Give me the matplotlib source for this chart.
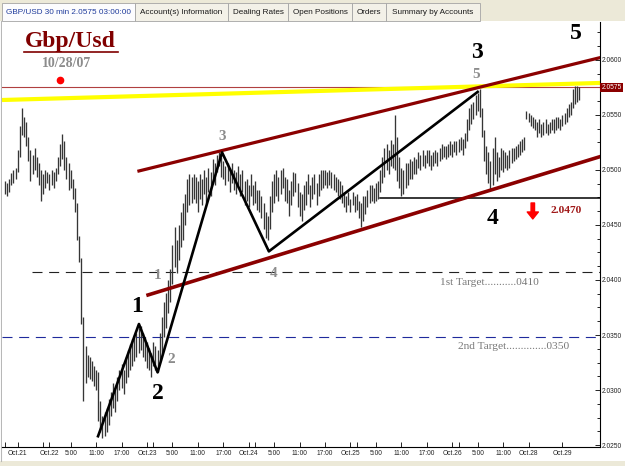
import numpy as np
import matplotlib
matplotlib.use("Agg")
import matplotlib.pyplot as plt
from matplotlib.patches import Rectangle
from matplotlib.ticker import MultipleLocator, FormatStrFormatter

# 30 min bars, prices in pips above 2.0000
bar_low = [
    478, 476, 480, 486, 488, 492, 498, 512, 532, 530,
    522, 508, 490, 496, 500, 494, 486, 472, 478, 484,
    488, 482, 486, 484, 490, 496, 504, 510, 500, 492,
    482, 484, 474, 462, 436, 416, 360, 290, 306, 312,
    310, 308, 304, 300, 272, 262, 256, 258, 262, 268,
    276, 284, 280, 290, 300, 302, 296, 306, 312, 318,
    322, 326, 330, 334, 336, 330, 326, 320, 318, 312,
    322, 318, 316, 326, 334, 348, 356, 370, 380, 396,
    412, 406, 418, 430, 436, 450, 462, 468, 470, 474,
    470, 462, 474, 468, 478, 470, 480, 476, 488, 486,
    498, 504, 494, 492, 486, 490, 480, 488, 482, 478,
    486, 476, 480, 468, 472, 466, 476, 468, 470, 464,
    462, 456, 446, 438, 436, 446, 462, 470, 476, 472,
    478, 484, 472, 470, 458, 468, 476, 480, 466, 458,
    454, 464, 468, 478, 466, 474, 478, 468, 476, 482,
    484, 486, 484, 486, 484, 482, 480, 476, 474, 470,
    466, 462, 468, 462, 468, 462, 464, 456, 448, 454,
    460, 466, 470, 472, 470, 472, 474, 480, 488, 494,
    500, 496, 504, 502, 500, 490, 484, 476, 478, 484,
    486, 492, 492, 496, 496, 502, 500, 504, 502, 506,
    504, 500, 504, 506, 504, 508, 510, 512, 510, 512,
    514, 512, 516, 514, 516, 518, 514, 520, 526, 536,
    542, 546, 550, 554, 548, 530, 508, 496, 488, 482,
    486, 496, 490, 494, 500, 498, 502, 500, 502, 506,
    508, 510, 512, 514, 516, 518, 546, 544, 540, 538,
    536, 530, 534, 530, 532, 534, 532, 534, 536, 534,
    536, 538, 536, 540, 542, 544, 548, 550, 556, 560, 562, 564,
]
bar_high = [
    490, 488, 492, 497, 500, 502, 518, 540, 556, 548,
    544, 530, 518, 514, 520, 512, 506, 500, 496, 500,
    498, 496, 500, 498, 502, 512, 524, 533, 526, 512,
    506, 500, 492, 484, 470, 440, 420, 366, 340, 332,
    330, 326, 322, 318, 316, 290, 276, 280, 284, 292,
    298, 306, 302, 312, 318, 324, 318, 330, 336, 342,
    346, 350, 352, 356, 358, 352, 348, 344, 338, 334,
    344, 340, 336, 352, 366, 380, 388, 400, 410, 432,
    448, 436, 450, 462, 470, 478, 492, 496, 494, 496,
    494, 490, 496, 492, 500, 494, 502, 498, 510, 506,
    514, 516, 512, 508, 504, 506, 502, 506, 500, 498,
    504, 496, 500, 490, 492, 486, 496, 486, 490, 482,
    482, 476, 470, 462, 458, 476, 490, 496, 500, 494,
    500, 502, 494, 492, 482, 490, 498, 497, 488, 480,
    478, 486, 490, 496, 486, 494, 496, 488, 496, 500,
    500, 500, 498, 500, 498, 496, 494, 492, 490, 486,
    480, 476, 480, 474, 480, 476, 478, 472, 470, 476,
    476, 482, 486, 486, 484, 488, 490, 500, 512, 520,
    524, 518, 527, 524, 550, 530, 512, 502, 500, 506,
    506, 510, 508, 512, 510, 516, 514, 518, 514, 518,
    518, 514, 516, 518, 516, 520, 524, 522, 522, 524,
    526, 524, 526, 526, 528, 530, 528, 534, 546, 556,
    560, 562, 568, 570, 574, 556, 536, 522, 516, 508,
    520, 530, 516, 512, 520, 518, 516, 514, 518, 520,
    520, 522, 524, 526, 528, 530, 554, 552, 550, 548,
    546, 544, 546, 542, 544, 546, 542, 544, 546, 546,
    548, 548, 546, 550, 552, 556, 560, 562, 574, 576, 576, 575,
]

time_ticks = [6, 21, 31, 43, 55, 67, 79, 91, 103, 115, 127, 139, 151,
              163, 175, 187, 199, 211, 223, 235, 247, 263]
time_labels = ["Oct.21", "Oct.22", "5:00", "11:00", "17:00", "Oct.23", "5:00",
               "11:00", "17:00", "Oct.24", "5:00", "11:00", "17:00", "Oct.25",
               "5:00", "11:00", "17:00", "Oct.26", "5:00", "11:00", "Oct.28",
               "Oct.29"]
extra_ticks = [0, 18, 70, 118, 166, 214]

# elliott wave count (bar, price)
wave_x = [43.9, 63.2, 72.0, 102.4, 124.5, 223.0]
wave_y = [2.0258, 2.0360, 2.0316, 2.0516, 2.0426, 2.0571]

last_price = 2.0575
target1 = 2.0407
target2 = 2.0348
support = 2.04745

x = np.arange(len(bar_low))
lo = 2 + np.array(bar_low) / 1e4
hi = 2 + np.array(bar_high) / 1e4

fig = plt.figure(figsize=(6.25, 4.66), dpi=100)
ax = fig.add_axes([2 / 625, 1 - 447 / 466, 598 / 625, 425 / 466])
ax.set_xlim(-1.4, 280.7)
ax.set_ylim(2.02482, 2.06345)

serif = "Liberation Serif"
sans = "Liberation Sans"
maroon = "#8b0000"

ax.vlines(x, lo, hi, color="#363636", lw=0.95, zorder=3)

# levels
ax.axhline(last_price, color="#b04040", lw=0.8, zorder=2)
ax.plot([-1.4, 280.7], [2.05636, 2.05791], color="#ffff00", lw=3.0, solid_capstyle="butt", zorder=2)
ax.plot([63.2, 280.7], [2.04991, 2.06021], color=maroon, lw=2.3, zorder=4)
ax.plot([67.5, 280.7], [2.03864, 2.05121], color=maroon, lw=2.6, zorder=4)
ax.plot([176.9, 280.7], [support, support], color="black", lw=1.1, zorder=2)
ax.plot([12.7, 280.7], [target1, target1], color="#222222", lw=0.8, ls=(0, (9, 6)), zorder=2)
ax.plot([-1.4, 280.7], [target2, target2], color="#1f2a9c", lw=0.8, ls=(0, (9, 6)), zorder=2)
ax.plot(wave_x, wave_y, color="black", lw=1.9, zorder=5)

# wave labels
big = dict(family=serif, weight="bold", fontsize=17, color="black", ha="center", va="center", zorder=6)
small = dict(family=serif, weight="bold", fontsize=11, color="#8c8c8c", ha="center", va="center", zorder=6)
ax.text(62.3, 2.03757, "1", **big)
ax.text(72.2, 2.02964, "2", **big)
ax.text(222.6, 2.06064, "3", **big)
ax.text(230.2, 2.04555, "4", **big)
ax.text(269.3, 2.06245, "5", **big)
ax.text(72.2, 2.04045, "1", **small)
ax.text(78.3, 2.03273, "2", **small)
ax.text(102.4, 2.0530, "3", **small)
ax.text(126.9, 2.04055, "4", **small)
ax.text(222.2, 2.05864, "5", **small)

ax.text(30.7, 2.06164, "Gbp/Usd", family=serif, weight="bold", fontsize=17,
        color="#800000", ha="center", va="center")
ax.plot([9.0, 53.3], [2.06073, 2.06073], color="#800000", lw=1.2)
ax.text(29.2, 2.05964, "10/28/07", family=serif, weight="bold", fontsize=10,
        color="#8c8c8c", ha="center", va="center")
ax.plot([25.9], [2.05818], "o", color="red", ms=4.5)

ax.text(205.2, 2.03973, "1st Target...........0410", family=serif, fontsize=8.2,
        color="#777777", ha="left", va="center")
ax.text(213.7, 2.0340, "2nd Target..............0350", family=serif, fontsize=8.2,
        color="#777777", ha="left", va="center")
ax.annotate("", xy=(249.0, 2.04555), xytext=(249.0, 2.0470),
            arrowprops=dict(facecolor="red", edgecolor="red", width=2.5,
                            headwidth=8, headlength=5, shrink=0))
ax.text(264.6, 2.04636, "2.0470", family=serif, weight="bold", fontsize=8.2,
        color="#a01818", ha="center", va="center")

# axes styling
for s in ["top", "left"]:
    ax.spines[s].set_visible(False)
ax.spines["right"].set_linewidth(0.8)
ax.spines["bottom"].set_linewidth(0.8)
ax.yaxis.tick_right()
ax.yaxis.set_major_locator(MultipleLocator(0.005))
ax.yaxis.set_minor_locator(MultipleLocator(0.00125))
ax.yaxis.set_major_formatter(FormatStrFormatter("%.4f"))
ax.tick_params(axis="y", which="major", direction="in", length=3.5, width=0.6,
               pad=1.5, labelsize=4.8, labelcolor="#222222")
ax.tick_params(axis="y", which="minor", direction="in", length=2.5, width=0.6)
ax.set_xticks(time_ticks)
ax.set_xticklabels(time_labels, family=sans)
ax.set_xticks(extra_ticks, minor=True)
ax.tick_params(axis="x", which="both", direction="in", length=3.5, width=0.6,
               pad=2.5, labelsize=4.8, labelcolor="#222222")
for lab in ax.get_yticklabels():
    lab.set_family(sans)
ax.text(1.003, last_price, "2.0575", transform=ax.get_yaxis_transform(),
        ha="left", va="center", fontsize=4.8, family=sans, color="white",
        bbox=dict(boxstyle="square,pad=0.2", fc=maroon, ec="none"), clip_on=False)

# window chrome in pixel coordinates
ui = fig.add_axes([0, 0, 1, 1], zorder=-1)
ui.set_xlim(0, 625)
ui.set_ylim(466, 0)
ui.axis("off")
ui.add_patch(Rectangle((0, 0), 625, 21, fc="#ece9d8", ec="none"))
ui.add_patch(Rectangle((0, 461), 625, 5, fc="#ece9d8", ec="none"))
ui.plot([0.5, 0.5], [21, 461], color="#b8b8b8", lw=0.8)
tab_edges = [2, 135, 228, 288, 352, 386, 480]
tab_names = ["GBP/USD 30 min 2.0575 03:00:00", "Account(s) Information",
             "Dealing Rates", "Open Positions", "Orders", "Summary by Accounts"]
for i, name in enumerate(tab_names):
    x0, x1 = tab_edges[i], tab_edges[i + 1]
    fc = "#fcfcfe" if i == 0 else "#f3f1e8"
    ui.add_patch(Rectangle((x0, 3), x1 - x0, 18, fc=fc, ec="#a4a4a4", lw=0.6))
    ui.text((x0 + x1) / 2, 12.5, name, family=sans, fontsize=5.9,
            color="#1f3b9c" if i == 0 else "#1a1a1a", ha="center", va="center")

fig.savefig("out.png", dpi=100)
